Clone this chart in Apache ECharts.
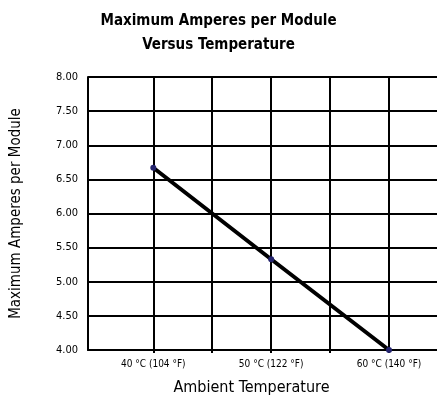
<!DOCTYPE html>
<html>
<head>
<meta charset="utf-8">
<script src="https://cdn.jsdelivr.net/npm/echarts@6/dist/echarts.min.js"></script>
<style>
  html, body { margin: 0; padding: 0; background: #fff; }
  #main { width: 437px; height: 402px; }
</style>
</head>
<body>
<div id="main"></div>
<script>
// chart data
var temps = [40, 50, 60];
var tempLabels = ['40 °C (104 °F)', '50 °C (122 °F)', '60 °C (140 °F)'];
var amps = [6.67, 5.33, 4.00];
var gridTemps = [40, 45, 50, 55, 60];

var font = '"DejaVu Sans Condensed", "Liberation Sans Narrow", sans-serif';

var chartDom = document.getElementById('main');
var myChart = echarts.init(chartDom);

var option = {
  animation: false,
  title: {
    text: 'Maximum Amperes per Module\nVersus Temperature',
    left: 'center',
    top: 4,
    textStyle: {
      fontFamily: font,
      fontWeight: 'bold',
      fontSize: 15,
      lineHeight: 24,
      color: '#000'
    }
  },
  grid: {
    left: 88,
    right: 0,
    top: 77,
    bottom: 52
  },
  xAxis: {
    type: 'value',
    min: 34.46,
    max: 64.07,
    name: 'Ambient Temperature',
    nameLocation: 'middle',
    nameGap: 30,
    nameTextStyle: {
      fontFamily: font,
      fontSize: 16,
      color: '#000',
      padding: [0, 22, 0, 0]
    },
    axisLine: { show: true, lineStyle: { color: '#000', width: 2 } },
    axisTick: {
      show: true,
      customValues: gridTemps,
      length: 3,
      lineStyle: { color: '#000', width: 2 }
    },
    axisLabel: {
      customValues: temps,
      fontFamily: font,
      fontSize: 10,
      color: '#000',
      margin: 9,
      formatter: function (v) {
        var i = temps.indexOf(v);
        return i >= 0 ? tempLabels[i] : '';
      }
    },
    splitLine: { show: true, lineStyle: { color: '#000', width: 2 } }
  },
  yAxis: {
    type: 'value',
    min: 4,
    max: 8,
    interval: 0.5,
    name: 'Maximum Amperes per Module',
    nameLocation: 'middle',
    nameGap: 64,
    nameTextStyle: {
      fontFamily: font,
      fontSize: 15,
      color: '#000'
    },
    axisLine: { show: true, lineStyle: { color: '#000', width: 2 } },
    axisTick: { show: false },
    axisLabel: {
      fontFamily: font,
      fontSize: 11,
      color: '#000',
      margin: 10,
      formatter: function (v) { return v.toFixed(2); }
    },
    splitLine: { show: true, lineStyle: { color: '#000', width: 2 } }
  },
  series: [
    {
      type: 'line',
      data: temps.map(function (t, i) { return [t, amps[i]]; }),
      lineStyle: { color: '#000', width: 4 },
      symbol: 'circle',
      symbolSize: 6,
      itemStyle: { color: '#24246e' },
      z: 5
    }
  ]
};

option && myChart.setOption(option);
</script>
</body>
</html>
